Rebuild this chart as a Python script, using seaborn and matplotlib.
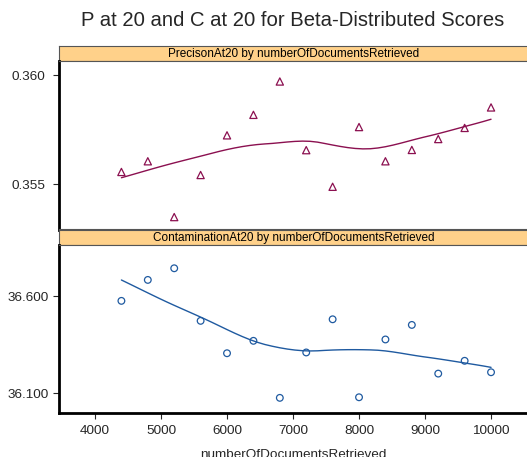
import numpy as np
import pandas as pd
import matplotlib
matplotlib.use("Agg")
import matplotlib.pyplot as plt
import seaborn as sns

sns.set_style("white")
plt.rcParams['font.family'] = ['Liberation Sans', 'DejaVu Sans']

docs = [4400, 4800, 5200, 5600, 6000, 6400, 6800, 7200, 7600, 8000, 8400, 8800, 9200, 9600, 10000]
precision = [0.35556, 0.35605, 0.35349, 0.35542, 0.35724, 0.35818, 0.35971, 0.35656,
             0.35488, 0.35762, 0.35605, 0.35657, 0.35707, 0.35758, 0.35852]
contamination = [36.576, 36.684, 36.744, 36.473, 36.306, 36.370, 36.076, 36.310,
                 36.481, 36.079, 36.377, 36.452, 36.201, 36.267, 36.208]
x_ticks = [4000, 5000, 6000, 7000, 8000, 9000, 10000]
prec_ticks = [0.355, 0.360]
cont_ticks = [36.1, 36.6]
title = "P at 20 and C at 20 for Beta-Distributed Scores"
strip_top = "PrecisonAt20 by numberOfDocumentsRetrieved"
strip_bot = "ContaminationAt20 by numberOfDocumentsRetrieved"
x_label = "numberOfDocumentsRetrieved"


def kd_vertices(x, fc):
    xs = np.sort(np.asarray(x, float))
    lo, hi = xs[0], xs[-1]
    mu = 0.005 * (hi - lo)
    verts = {lo - mu, hi + mu}

    def split(pts):
        if len(pts) <= fc:
            return
        m = (len(pts) + 1) // 2
        v = (pts[m - 1] + pts[m]) / 2 if m < len(pts) else pts[m - 1]
        verts.add(v)
        split(pts[:m]); split(pts[m:])

    split(list(xs))
    return np.array(sorted(verts))


def loess(x, y, span=2/3, iterations=4, n_eval=50):
    """Local linear loess (symmetric family) with kd-tree vertex interpolation."""
    x = np.asarray(x, float); y = np.asarray(y, float)
    n = len(x)
    q = int(np.floor(n * span))
    rob = np.ones(n)

    def fit_at(x0, rw):
        d = np.abs(x - x0)
        sd = np.sort(d)
        h = (sd[q - 1] + sd[q]) / 2 if q < n else sd[q - 1]
        w = np.clip(1 - (d / h) ** 3, 0, None) ** 3 * rw
        X = np.column_stack([np.ones(n), x - x0])
        Wm = np.diag(w)
        beta = np.linalg.lstsq(X.T @ Wm @ X, X.T @ Wm @ y, rcond=None)[0]
        return beta[0], beta[1]

    verts = kd_vertices(x, max(int(np.floor(n * span * 0.2)), 1))

    def surface(pts, rw):
        vals = np.array([fit_at(v, rw) for v in verts])
        f, df = vals[:, 0], vals[:, 1]
        out = []
        for p0 in pts:
            k = np.clip(np.searchsorted(verts, p0) - 1, 0, len(verts) - 2)
            x0, x1 = verts[k], verts[k + 1]
            hh = x1 - x0
            t = (p0 - x0) / hh
            out.append((2 * t**3 - 3 * t**2 + 1) * f[k] + (t**3 - 2 * t**2 + t) * hh * df[k]
                       + (-2 * t**3 + 3 * t**2) * f[k + 1] + (t**3 - t**2) * hh * df[k + 1])
        return np.array(out)

    for it in range(iterations - 1):
        r = y - surface(x, rob)
        s = np.median(np.abs(r))
        u = r / (6 * s)
        rob = np.where(np.abs(u) < 1, (1 - u ** 2) ** 2, 0)
    xs = np.linspace(x.min(), x.max(), n_eval)
    return xs, surface(xs, rob)


W, H = 527, 457
fig = plt.figure(figsize=(W / 100, H / 100), dpi=100)

def add_ax(left, top, right, bottom):
    return fig.add_axes([left / W, 1 - bottom / H, (right - left) / W, (bottom - top) / H])

STRIP = "#FFD18A"
fs_tick = 9.7
xlim = (3454.5, 10560)

panels = [
    dict(strip=(46, 61), panel=(61, 229.5), y=precision, ylim=(0.35292, 0.36065),
         ticks=prec_ticks, fmt="{:.3f}", color="#8B1050", marker="^", label=strip_top, ms=5.2),
    dict(strip=(230, 245), panel=(245, 412.5), y=contamination, ylim=(36.0005, 36.864),
         ticks=cont_ticks, fmt="{:.3f}", color="#1F5AA0", marker="o", label=strip_bot, ms=4.8),
]

left, right = 59, 528
for i, p in enumerate(panels):
    sax = add_ax(left, p["strip"][0], right, p["strip"][1])
    sax.set_facecolor(STRIP)
    sax.set_xticks([]); sax.set_yticks([])
    for s in sax.spines.values():
        s.set_color("#555555"); s.set_linewidth(0.8)
    sax.text(0.5, 0.45, p["label"], transform=sax.transAxes, ha="center", va="center",
             fontsize=8.5, color="black")

    ax = add_ax(left, p["panel"][0], right, p["panel"][1])
    df = pd.DataFrame({"x": docs, "y": p["y"]})
    sns.scatterplot(data=df, x="x", y="y", ax=ax, marker=p["marker"], s=p["ms"] ** 2,
                    facecolors="none", edgecolor=p["color"], linewidth=0.9, color=p["color"])
    xs, ys = loess(docs, p["y"])
    sns.lineplot(x=xs, y=ys, ax=ax, color=p["color"], linewidth=1.0)
    ax.set_xlim(*xlim)
    ax.set_ylim(*p["ylim"])
    ax.set_yticks(p["ticks"])
    ax.set_yticklabels([p["fmt"].format(t) for t in p["ticks"]], fontsize=fs_tick, ha="center")
    ax.tick_params(axis="y", direction="out", length=4.3, width=0.8, pad=18, left=True)
    ax.set_xlabel(""); ax.set_ylabel("")
    for s in ax.spines.values():
        s.set_color("#555555"); s.set_linewidth(0.8)
    ax.spines["left"].set_color("black"); ax.spines["left"].set_linewidth(2)
    if i == 1:
        ax.set_xticks(x_ticks)
        ax.set_xticklabels([str(t) for t in x_ticks], fontsize=fs_tick)
        ax.tick_params(axis="x", direction="out", length=4.3, width=0.8, pad=5, bottom=True)
        ax.spines["bottom"].set_color("black"); ax.spines["bottom"].set_linewidth(2)
        ax.set_xlabel(x_label, fontsize=fs_tick, labelpad=8.5)
    else:
        ax.set_xticks([])

fig.text(293 / W, 1 - 20 / H, title, ha="center", va="center", fontsize=14.6)

fig.savefig("out.png", dpi=100)
